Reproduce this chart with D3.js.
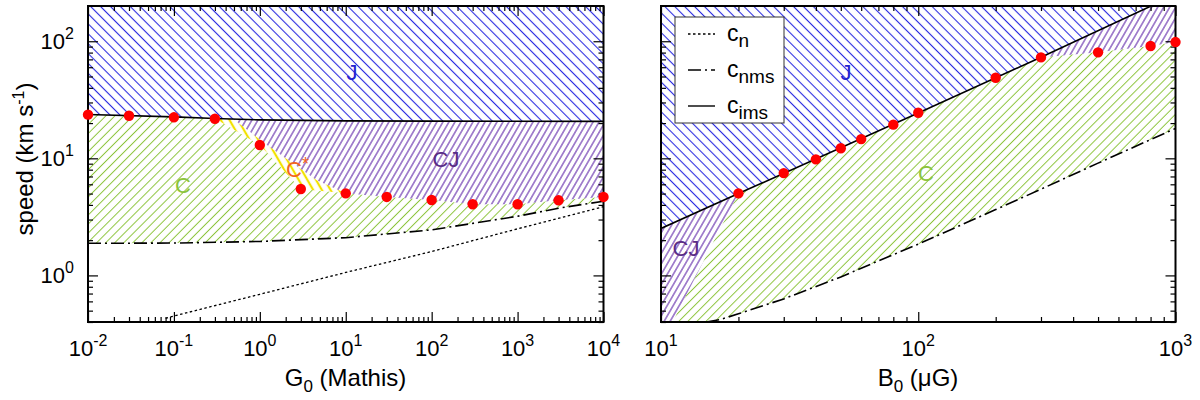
<!DOCTYPE html>
<html><head><meta charset="utf-8">
<script src="https://cdn.jsdelivr.net/npm/d3@7"></script>
<style>body{margin:0;background:#fff} svg{display:block} text{font-family:"Liberation Sans",Arial,Helvetica,sans-serif}</style>
</head><body><svg id="c" width="1200" height="400"></svg>
<script>
// ---------- data ----------
// Left panel: G0 (Mathis)
const g0Points = [0.01,0.03,0.1,0.3,1,3,10,30,100,300,1000,3000,10000];
const g0PointV = [23.6,23.1,22.4,21.8,13.0,5.47,5.02,4.68,4.41,4.05,4.05,4.38,4.68];
const g0Ims   = [0.01,0.1,0.3,1,10,100,10000];
const g0ImsV  = [23.7,22.6,21.9,21.3,20.9,20.8,20.7];
const g0Nms   = [0.01,0.1,1,10,100,1000,3000,10000];
const g0NmsV  = [1.88,1.89,1.95,2.1,2.45,3.2,3.75,4.3];
const g0N     = [0.08,0.1,1,10,100,1000,10000];
const g0NV    = [0.43,0.45,0.69,1.06,1.6,2.5,3.86];
const g0CStarTop  = [0.49,1.21,4.6,10];
const g0CStarTopV = [21.65,13.0,6.5,5.02];
const g0CStarFrom = 0.3;
// Right panel: B0 (microGauss)
const bPoints = [20,30,40,50,60,80,100,200,300,500,800,1000];
const bPointV = [5.02,7.48,9.8,12.2,14.6,19.4,24.5,48.8,72.8,80.4,91,98.4];
const bIms    = [10,20,100,300,1000];
const bImsV   = [2.52,5.0,24.4,73,250];
const bNms    = [15,17,20,30,50,70,100,200,300,500,1000];
const bNmsV   = [0.40,0.42,0.47,0.63,0.97,1.33,1.85,3.65,5.45,9.1,18];
const bCJEdge  = [20,15.4,11.1,10.2];
const bCJEdgeV = [5.0,1.65,0.4,0.28];
const bCJFrom = 300;
// tick labels (exponents of 10)
const xExpL = [-2,-1,0,1,2,3,4];
const xExpR = [1,2,3];
const yExp  = [0,1,2];
const legendItems = [{sub:"n",dash:"2.5,2.5"},{sub:"nms",dash:"13,4,2,4"},{sub:"ims",dash:null}];

// ---------- setup ----------
const svg = d3.select("#c");
const defs = svg.append("defs");
const zip = (a,b)=>a.map((v,i)=>[v,b[i]]);
const yS = d3.scaleLog().domain([0.4,200]).range([322,6]);
const xL = d3.scaleLog().domain([0.01,1e4]).range([88,603.5]);
const xR = d3.scaleLog().domain([10,1000]).range([661,1175.5]);

function hatch(id,color,angle,sp,w){
  const p = defs.append("pattern").attr("id",id).attr("patternUnits","userSpaceOnUse")
    .attr("width",sp).attr("height",sp).attr("patternTransform",`rotate(${angle})`);
  p.append("line").attr("x1",sp/2).attr("x2",sp/2).attr("y1",-1).attr("y2",sp+1)
    .attr("stroke",color).attr("stroke-width",w);
}
hatch("hJ","#2a2ae0",-45,7.0,1.1);
hatch("hC","#8cc43c",45,6.4,1.0);
hatch("hCJ","#7442b4",30,5.2,1.2);
hatch("hCs","#f2e200",-30,7.5,2.2);

const colJ="#2323d0", colC="#8cc43c", colCJ="#5a2d86", colCs="#f26522";

function panel(id, xs, pieces, lines, pts){
  const [x0,x1]=xs.range(), [y0,y1]=yS.range();
  defs.append("clipPath").attr("id",id).append("rect")
    .attr("x",x0).attr("y",y1).attr("width",x1-x0).attr("height",y0-y1);
  const g = svg.append("g");
  const cg = g.append("g").attr("clip-path",`url(#${id})`);
  const line = d3.line().x(d=>xs(d[0])).y(d=>yS(d[1]));
  pieces.forEach(p=>cg.append("path").attr("d",line(p.pts)+"Z").attr("fill",`url(#${p.fill})`).attr("stroke","none"));
  lines.forEach(l=>cg.append("path").attr("d",line(l.pts)).attr("fill","none")
    .attr("stroke","#000").attr("stroke-width",l.w).attr("stroke-dasharray",l.dash));
  // ticks
  const all = xs.ticks(), isMaj = v=>Math.abs(Math.log10(v)-Math.round(Math.log10(v)))<1e-9;
  const xMaj = all.filter(isMaj), xMin = all.filter(v=>!isMaj(v));
  const yall = yS.ticks().filter(v=>v<yS.domain()[1]);
  const yMaj = yall.filter(isMaj), yMin = yall.filter(v=>!isMaj(v));
  const ax = (gen,vals,size,tr)=>{
    const a = g.append("g").attr("transform",tr).call(gen.tickValues(vals).tickSize(size).tickFormat(""));
    a.select(".domain").remove(); a.selectAll("line").attr("stroke","#000").attr("stroke-width",1.2);
  };
  ax(d3.axisBottom(xs),xMaj,-10,`translate(0,${y0})`); ax(d3.axisBottom(xs),xMin,-5,`translate(0,${y0})`);
  ax(d3.axisTop(xs),xMaj,-10,`translate(0,${y1})`);   ax(d3.axisTop(xs),xMin,-5,`translate(0,${y1})`);
  ax(d3.axisLeft(yS),yMaj,-10,`translate(${x0},0)`);  ax(d3.axisLeft(yS),yMin,-5,`translate(${x0},0)`);
  ax(d3.axisRight(yS),yMaj,-10,`translate(${x1},0)`); ax(d3.axisRight(yS),yMin,-5,`translate(${x1},0)`);
  g.append("rect").attr("x",x0).attr("y",y1).attr("width",x1-x0).attr("height",y0-y1)
    .attr("fill","none").attr("stroke","#000").attr("stroke-width",2);
  g.selectAll("circle").data(pts).join("circle").attr("cx",d=>xs(d[0])).attr("cy",d=>yS(d[1]))
    .attr("r",5.2).attr("fill","#ff0000");
  return g;
}

// ---------- left panel ----------
const imsL=zip(g0Ims,g0ImsV), ptsL=zip(g0Points,g0PointV), nmsL=zip(g0Nms,g0NmsV), cstL=zip(g0CStarTop,g0CStarTopV);
const topV = yS.domain()[1];
const [gL0,gL1]=xL.domain();
const imsAt = imsL.find(d=>d[0]===g0CStarFrom);
const piecesL = [
  {fill:"hJ", pts:[...imsL,[gL1,topV],[gL0,topV]]},
  {fill:"hC", pts:[...imsL.filter(d=>d[0]<=g0CStarFrom), ...ptsL.filter(d=>d[0]>g0CStarFrom), ...nmsL.slice().reverse()]},
  {fill:"hCs",pts:[imsAt, ...ptsL.filter(d=>d[0]>g0CStarFrom && d[0]<=cstL[cstL.length-1][0]), ...cstL.slice().reverse()]},
  {fill:"hCJ",pts:[...cstL, ...ptsL.filter(d=>d[0]>cstL[cstL.length-1][0]), ...imsL.filter(d=>d[0]>cstL[0][0]).reverse()]}
];
const linesL = [
  {pts:imsL,w:1.6,dash:null},
  {pts:nmsL,w:1.6,dash:"13,4,2,4"},
  {pts:zip(g0N,g0NV),w:1.3,dash:"2.5,2.5"}
];
panel("clipL",xL,piecesL,linesL,ptsL);

// ---------- right panel ----------
const imsR=zip(bIms,bImsV), ptsR=zip(bPoints,bPointV), nmsR=zip(bNms,bNmsV), edgeR=zip(bCJEdge,bCJEdgeV);
const [bR0,bR1]=xR.domain();
const edgeLow = edgeR[edgeR.length-1][1];
const piecesR = [
  {fill:"hJ", pts:[...imsR,[bR1,topV],[bR0,topV]]},
  {fill:"hCJ",pts:[...imsR.filter(d=>d[0]<=edgeR[0][0]), ...edgeR.slice(1), [bR0,edgeLow]]},
  {fill:"hC", pts:[...edgeR.slice().reverse(), ...imsR.filter(d=>d[0]>edgeR[0][0] && d[0]<=bCJFrom),
                   ...ptsR.filter(d=>d[0]>bCJFrom), ...nmsR.slice().reverse(), [nmsR[0][0],edgeLow]]},
  {fill:"hCJ",pts:[...ptsR.filter(d=>d[0]>=bCJFrom), ...imsR.filter(d=>d[0]>=bCJFrom).reverse()]}
];
const linesR = [
  {pts:imsR,w:1.6,dash:null},
  {pts:nmsR,w:1.6,dash:"13,4,2,4"}
];
panel("clipR",xR,piecesR,linesR,ptsR);

// ---------- tick labels ----------
function pow10(sel,x,y,e,anchor){
  const t = sel.append("text").attr("x",x).attr("y",y).attr("text-anchor",anchor).attr("font-size",22).attr("fill","#000");
  t.append("tspan").text("10");
  t.append("tspan").attr("dy",-10).attr("font-size",16).text(e<0?"-"+Math.abs(e):String(e));
}
xExpL.forEach(e=>pow10(svg,xL(Math.pow(10,e)),356,e,"middle"));
xExpR.forEach(e=>pow10(svg,xR(Math.pow(10,e)),356,e,"middle"));
yExp.forEach(e=>pow10(svg,74,yS(Math.pow(10,e))+8,e,"end"));

// ---------- axis titles ----------
function title(x,y,main,rot){
  const t = svg.append("text").attr("x",x).attr("y",y).attr("text-anchor","middle").attr("font-size",24).attr("fill","#000");
  if(rot) t.attr("transform",`rotate(-90,${x},${y})`);
  t.append("tspan").text(main);
  return t;
}
let t1 = title(345.5,386,"G");
t1.append("tspan").attr("dy",6).attr("font-size",17).text("0");
t1.append("tspan").attr("dy",-6).text(" (Mathis)");
let t2 = title(918,386,"B");
t2.append("tspan").attr("dy",6).attr("font-size",17).text("0");
t2.append("tspan").attr("dy",-6).text(" (\u03bcG)");
let t3 = title(33,159,"speed (km s",true);
t3.append("tspan").attr("dy",-9).attr("font-size",16).text("-1");
t3.append("tspan").attr("dy",9).text(")");

// ---------- region labels ----------
function lab(x,y,txt,col){ return svg.append("text").attr("x",x).attr("y",y).attr("text-anchor","middle")
  .attr("font-size",22).attr("fill",col).text(txt); }
lab(352,80,"J",colJ);
lab(183,193,"C",colC);
lab(446,167,"CJ",colCJ);
const cs = svg.append("text").attr("x",286).attr("y",177).attr("font-size",22).attr("fill",colCs);
cs.append("tspan").text("C"); cs.append("tspan").attr("dy",-7).attr("font-size",18).text("*");
lab(846,80,"J",colJ);
lab(926,181,"C",colC);
lab(686,256,"CJ",colCJ);

// ---------- legend ----------
const lg = svg.append("g");
lg.append("rect").attr("x",675).attr("y",17).attr("width",109).attr("height",106)
  .attr("fill","#fff").attr("stroke","#333").attr("stroke-width",1);
legendItems.forEach((d,i)=>{
  const yy = 34 + i*36;
  lg.append("line").attr("x1",688).attr("x2",715).attr("y1",yy).attr("y2",yy)
    .attr("stroke","#000").attr("stroke-width",1.4).attr("stroke-dasharray",d.dash);
  const t = lg.append("text").attr("x",727).attr("y",yy+7).attr("font-size",23).attr("fill","#000");
  t.append("tspan").text("c");
  t.append("tspan").attr("dy",6).attr("font-size",19).text(d.sub);
});
</script></body></html>
